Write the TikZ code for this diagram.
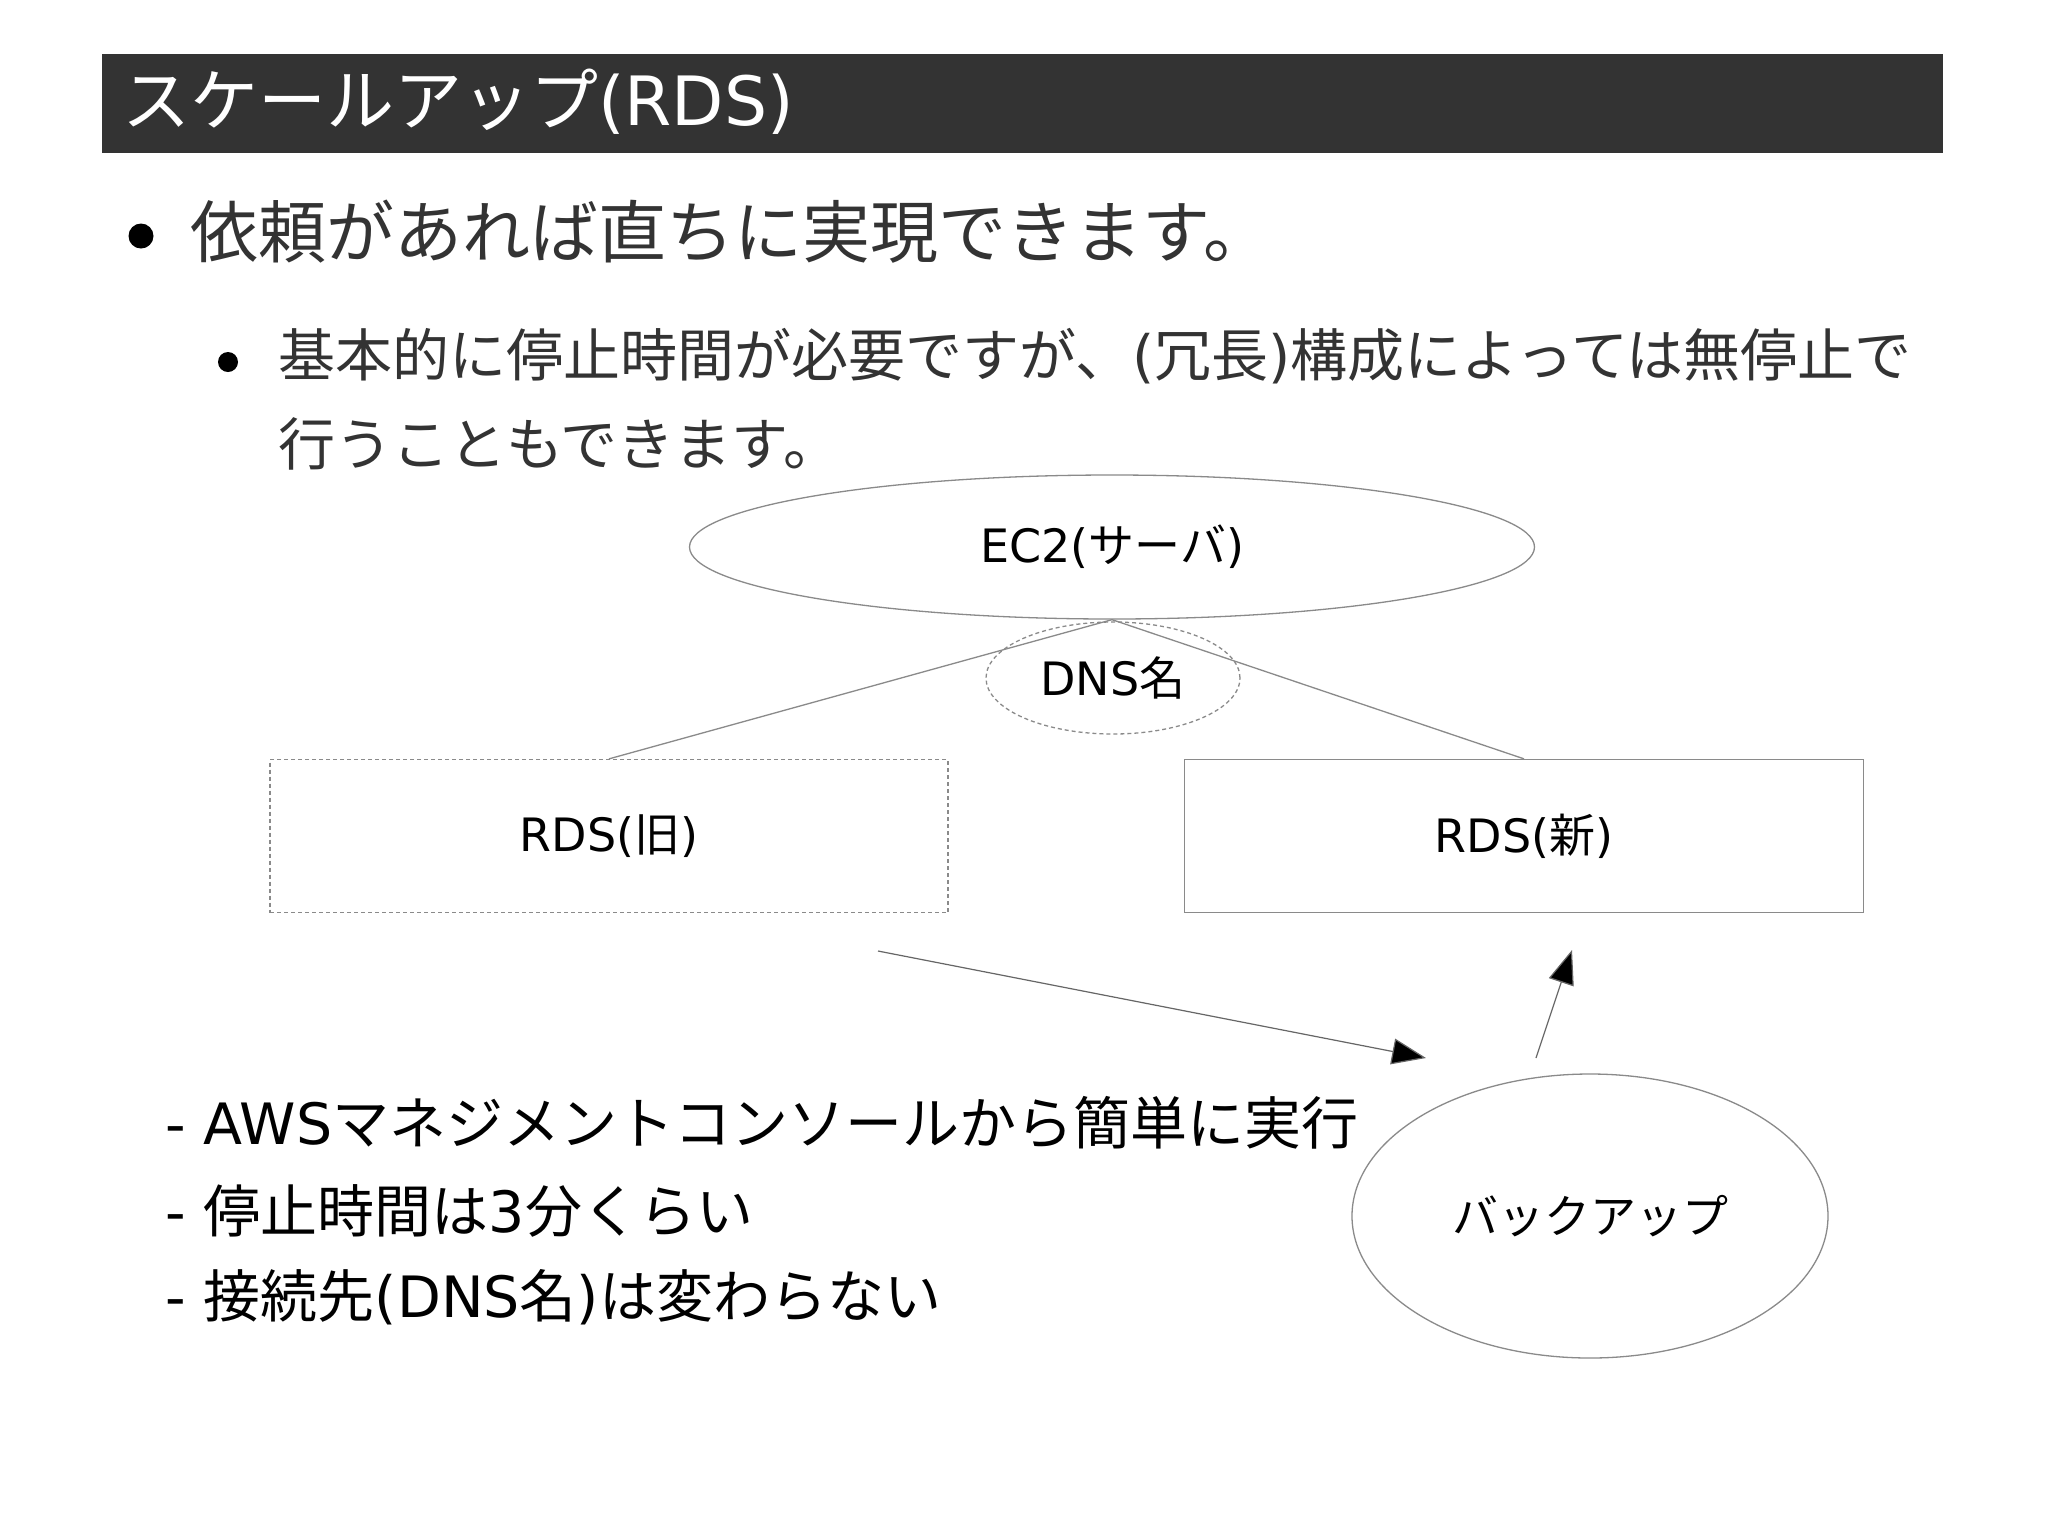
\documentclass[tikz,border=0pt]{standalone}
\usepackage{fontspec}
\setmainfont{Noto Sans CJK JP}
\newfontfamily\lat{DejaVu Sans}
\usetikzlibrary{arrows.meta,shapes.geometric}
\definecolor{titlebg}{HTML}{333333}
\definecolor{bodytxt}{HTML}{333333}
\definecolor{linegray}{HTML}{8A8A8A}
\tikzset{
  titletxt/.style={anchor=west,inner sep=0pt,text=white,font=\fontsize{68}{80}\selectfont},
  bodyline/.style={anchor=west,inner sep=0pt,text=bodytxt},
  big/.style={font=\fontsize{68}{80}\selectfont},
  mid/.style={font=\fontsize{57}{68}\selectfont},
  low/.style={anchor=west,inner sep=0pt,text=black,font=\fontsize{57}{68}\selectfont},
  dot/.style={circle,fill=black,inner sep=0pt},
  diag/.style={font=\fontsize{46}{56}\selectfont,text=black},
  solidshape/.style={draw=linegray,line width=1.3pt},
  dashshape/.style={draw=linegray,line width=1.3pt,dash pattern=on 4pt off 3pt},
  conn/.style={draw=linegray,line width=1.3pt},
  arr/.style={draw=black!60,line width=1.2pt,-{Triangle[length=34pt,width=26pt,fill=black]}}
}
\begin{document}
\begin{tikzpicture}[x=1pt,y=-1pt]
\useasboundingbox[fill=white] (0,0) rectangle (2048,1535);
% title bar
\fill[titlebg] (102,54) rectangle (1943,153);
\node[titletxt] (title) at (122,102) {スケールアップ{\lat (RDS)}};
% bullets
\node[dot,minimum size=25pt] (b1) at (141,236) {};
\node[bodyline,big] (t1) at (190,232) {依頼があれば直ちに実現できます。};
\node[dot,minimum size=20pt] (b2) at (228,362) {};
\node[bodyline,mid] (t2a) at (278,356) {基本的に停止時間が必要ですが、{\lat (}冗長{\lat )}構成によっては無停止で};
\node[bodyline,mid] (t2b) at (278,444) {行うこともできます。};
% diagram
\node[ellipse,solidshape,diag,minimum width=845pt,minimum height=144pt] (ec2) at (1112,547) {{\lat EC2(}サーバ{\lat )}};
\node[ellipse,dashshape,diag,minimum width=254pt,minimum height=112pt] (dns) at (1113,678) {{\lat DNS}名};
\node[rectangle,dashshape,diag,minimum width=678pt,minimum height=153pt] (old) at (609,836) {{\lat RDS(}旧{\lat )}};
\node[rectangle,solidshape,diag,minimum width=679pt,minimum height=153pt] (new) at (1524,836) {{\lat RDS(}新{\lat )}};
\node[ellipse,solidshape,diag,minimum width=476pt,minimum height=284pt] (bk) at (1590,1216) {バックアップ};
\draw[conn] (ec2.south) -- (old.north);
\draw[conn] (ec2.south) -- (new.north);
\coordinate (a1s) at (878,951);
\coordinate (a1e) at (1426,1058);
\coordinate (a2s) at (1536,1058);
\coordinate (a2e) at (1572,950);
\draw[arr] (a1s) -- (a1e);
\draw[arr] (a2s) -- (a2e);
% lower notes
\node[low] (n1) at (165,1123) {{\lat - AWS}マネジメントコンソールから簡単に実行};
\node[low] (n2) at (165,1211) {{\lat - }停止時間は{\lat 3}分くらい};
\node[low] (n3) at (165,1297) {{\lat - }接続先{\lat (DNS}名{\lat )}は変わらない};
\end{tikzpicture}
\end{document}
